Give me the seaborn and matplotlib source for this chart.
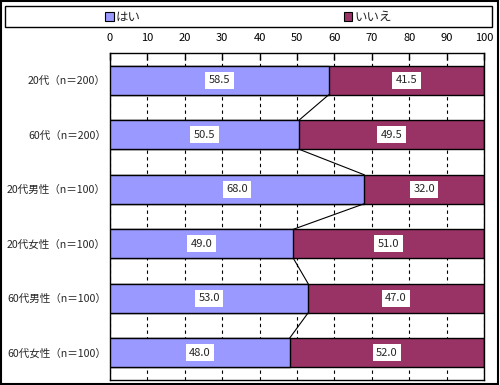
import matplotlib
matplotlib.use('Agg')
import matplotlib.pyplot as plt
import seaborn as sns
import pandas as pd
from matplotlib.patches import Rectangle

categories = ['20代（n＝200）', '60代（n＝200）', '20代男性（n＝100）',
              '20代女性（n＝100）', '60代男性（n＝100）', '60代女性（n＝100）']
hai = [58.5, 50.5, 68.0, 49.0, 53.0, 48.0]
iie = [41.5, 49.5, 32.0, 51.0, 47.0, 52.0]
series_names = ['はい', 'いいえ']
series_colors = ['#9999FF', '#993366']
xticks = [0, 10, 20, 30, 40, 50, 60, 70, 80, 90, 100]

sns.set_style('white')
plt.rcParams['font.family'] = ['Noto Sans CJK JP', 'DejaVu Sans']

fig = plt.figure(figsize=(5, 3.85), dpi=100)
W, H = 500, 385
ax = fig.add_axes([110 / W, (H - 380) / H, (484 - 110) / W, (380 - 53) / H])

df = pd.DataFrame({'cat': categories, 'hai': hai,
                   'total': [h + n for h, n in zip(hai, iie)]})

bw = 0.53
sns.barplot(data=df, x='total', y='cat', orient='h', color=series_colors[1],
            saturation=1, width=bw, edgecolor='black', linewidth=1,
            errorbar=None, ax=ax, zorder=2)
sns.barplot(data=df, x='hai', y='cat', orient='h', color=series_colors[0],
            saturation=1, width=bw, edgecolor='black', linewidth=1,
            errorbar=None, ax=ax, zorder=3)

# value labels
for i in range(len(categories)):
    ax.text(hai[i] / 2, i, f'{hai[i]:.1f}', ha='center', va='center',
            fontsize=8, zorder=5,
            bbox=dict(facecolor='white', edgecolor='none', pad=2.5))
    ax.text(hai[i] + iie[i] / 2, i, f'{iie[i]:.1f}', ha='center', va='center',
            fontsize=8, zorder=5,
            bbox=dict(facecolor='white', edgecolor='none', pad=2.5))

# series lines
for i in range(len(categories) - 1):
    ax.plot([hai[i], hai[i + 1]], [i + bw / 2, i + 1 - bw / 2],
            color='black', lw=0.8, zorder=4)

ax.set_xlim(0, 100)
ax.set_ylim(len(categories) - 0.5, -0.5)
ax.set_xlabel('')
ax.set_ylabel('')
ax.xaxis.tick_top()
ax.set_xticks(xticks)
ax.set_xticklabels([str(t) for t in xticks])
ax.tick_params(axis='x', direction='in', length=5, width=1, pad=7.5,
               labelsize=8, colors='black')
ax.tick_params(axis='y', which='major', length=0, pad=3, labelsize=7.6)
ax.set_yticks([i + 0.5 for i in range(len(categories) - 1)], minor=True)
ax.tick_params(axis='y', which='minor', direction='in', length=3, width=1)
ax.xaxis.grid(True, linestyle=(0, (3, 3)), color='black', lw=0.8)
ax.yaxis.grid(False)
ax.set_axisbelow(True)
for s in ax.spines.values():
    s.set_color('black')
    s.set_linewidth(1)
    s.set_visible(True)

# legend
handles = [Rectangle((0, 0), 1, 1, fc=c, ec='black', lw=0.8) for c in series_colors]
fig.legend(handles, series_names, loc='center',
           bbox_to_anchor=(248.5 / W, 1 - 17 / H), ncol=2, frameon=False,
           columnspacing=16.2, handlelength=0.7, handleheight=0.7,
           handletextpad=0.2, fontsize=9, borderaxespad=0, borderpad=0)
fig.add_artist(Rectangle((5 / W, 1 - 27 / H), 487 / W, 21 / H,
                         transform=fig.transFigure, fill=False,
                         ec='black', lw=1))
fig.add_artist(Rectangle((0.75 / W, 1.5 / H), 497.5 / W, 382.5 / H,
                         transform=fig.transFigure, fill=False,
                         ec='black', lw=1.5))

fig.savefig('out.png', dpi=100)
